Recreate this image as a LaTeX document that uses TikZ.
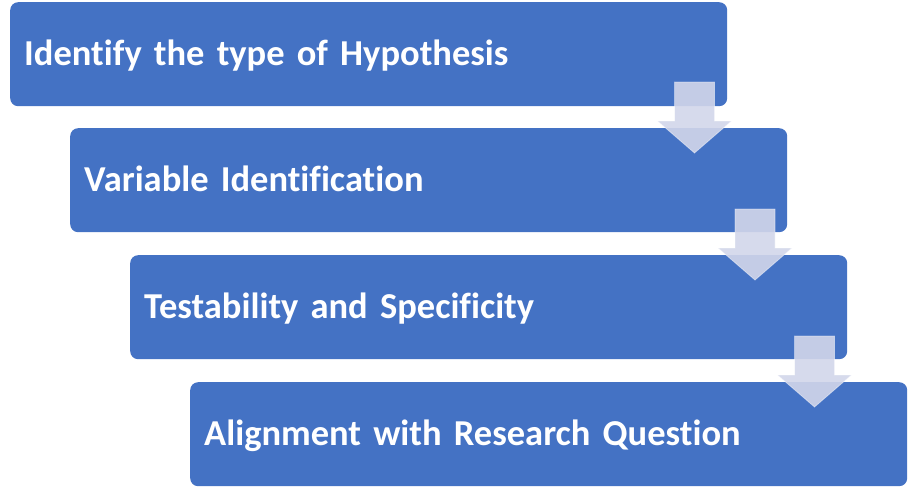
\documentclass[tikz,border=0pt]{standalone}
\usepackage{fontspec}
\setmainfont{Carlito}[RawFeature=-liga, WordSpace=0.8]
\definecolor{stepblue}{RGB}{68,114,196}
\definecolor{arrowfill}{RGB}{210,214,234}
\begin{document}
\begin{tikzpicture}[x=1pt,y=-1pt,
  stepbox/.style={draw=none, fill=stepblue, rounded corners=8pt, anchor=north west,
    minimum width=717pt, minimum height=104pt, inner xsep=14pt,
    text width=689pt, align=left, text=white, text height=23pt, text depth=0pt,
    font=\fontsize{36.5}{40}\selectfont\bfseries},
  downarrow/.style={fill=arrowfill, fill opacity=0.9, draw=white, draw opacity=0.45,
    line width=0.8pt, line join=miter}]
\useasboundingbox (0,0) rectangle (910,490);
\node[stepbox] (s1) at (10,2)   {Identify the type of Hypothesis};
\node[stepbox] (s2) at (70,128) {Variable Identification};
\node[stepbox] (s3) at (130,255){Testability and Specificity};
\node[stepbox] (s4) at (190,382){Alignment with Research Question};
% block arrows between consecutive steps
\foreach \cx/\ty in {694.5/82, 755/209, 814.5/336}{
  \path[downarrow] (\cx-20,\ty) -- (\cx+20,\ty) -- (\cx+20,\ty+39) -- (\cx+37,\ty+39)
    -- (\cx,\ty+71) -- (\cx-37,\ty+39) -- (\cx-20,\ty+39) -- cycle;
}
\end{tikzpicture}
\end{document}
